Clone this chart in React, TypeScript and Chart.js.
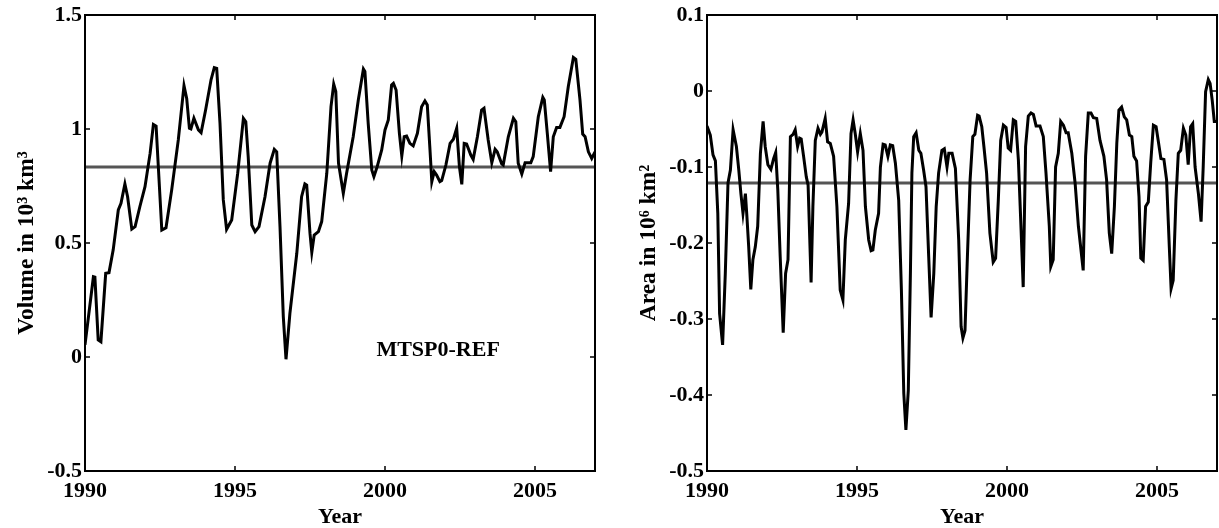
import React, { useEffect, useRef } from "react";
import { Chart, registerables } from "chart.js";

Chart.register(...registerables);

// ---------- data ----------
const xTickYears = [1990, 1995, 2000, 2005];
const volTicks = [-0.5, 0, 0.5, 1, 1.5];
const areaTicks = [-0.5, -0.4, -0.3, -0.2, -0.1, 0, 0.1];

const volMean = 0.833;
const areaMean = -0.121;

const volYears = [
  1990.0, 1990.28, 1990.33, 1990.44, 1990.53, 1990.69, 1990.8, 1990.94, 1991.11, 1991.2,
  1991.33, 1991.42, 1991.56, 1991.67, 1991.83, 1992.0, 1992.17, 1992.28, 1992.37, 1992.56,
  1992.7, 1992.89, 1993.11, 1993.3, 1993.39, 1993.48, 1993.53, 1993.63, 1993.78, 1993.87,
  1994.02, 1994.2, 1994.31, 1994.39, 1994.5, 1994.61, 1994.72, 1994.89, 1995.09, 1995.28,
  1995.36, 1995.44, 1995.56, 1995.67, 1995.8, 1996.0, 1996.17, 1996.31, 1996.39, 1996.5,
  1996.61, 1996.7, 1996.83, 1997.06, 1997.22, 1997.33, 1997.39, 1997.5, 1997.56, 1997.64,
  1997.78, 1997.89, 1998.06, 1998.2, 1998.29, 1998.36, 1998.45, 1998.61, 1998.72, 1998.94,
  1999.11, 1999.28, 1999.33, 1999.44, 1999.56, 1999.63, 1999.74, 1999.89, 2000.0, 2000.11,
  2000.22, 2000.28, 2000.37, 2000.48, 2000.56, 2000.64, 2000.72, 2000.83, 2000.94, 2001.08,
  2001.22, 2001.33, 2001.41, 2001.5, 2001.56, 2001.64, 2001.72, 2001.83, 2001.89, 2002.03,
  2002.17, 2002.28, 2002.39, 2002.48, 2002.56, 2002.64, 2002.72, 2002.86, 2002.94, 2003.08,
  2003.22, 2003.3, 2003.44, 2003.56, 2003.67, 2003.74, 2003.89, 2003.94, 2004.11, 2004.28,
  2004.36, 2004.44, 2004.56, 2004.67, 2004.86, 2004.94, 2005.11, 2005.26, 2005.31, 2005.41,
  2005.52, 2005.61, 2005.72, 2005.83, 2005.97, 2006.11, 2006.28, 2006.36, 2006.5, 2006.59,
  2006.67, 2006.78, 2006.89, 2007.0,
];
const volValues = [
  0.053, 0.352, 0.35, 0.075, 0.067, 0.367, 0.37, 0.47, 0.645, 0.674,
  0.759, 0.703, 0.561, 0.572, 0.66, 0.747, 0.893, 1.02, 1.013, 0.557,
  0.567, 0.733, 0.952, 1.19, 1.134, 1.003, 1.0, 1.047, 0.996, 0.984,
  1.083, 1.215, 1.269, 1.266, 1.025, 0.689, 0.56, 0.601, 0.806, 1.047,
  1.032, 0.879, 0.579, 0.55, 0.572, 0.703, 0.85, 0.911, 0.9, 0.572,
  0.177, -0.01, 0.191, 0.455, 0.703, 0.759, 0.754, 0.542, 0.459, 0.535,
  0.55, 0.594, 0.806, 1.098, 1.197, 1.164, 0.85, 0.718, 0.806, 0.966,
  1.127, 1.263, 1.252, 1.025, 0.82, 0.791, 0.835, 0.908, 0.996, 1.04,
  1.193, 1.2, 1.171, 0.981, 0.882, 0.966, 0.969, 0.937, 0.926, 0.981,
  1.098, 1.123, 1.105, 0.908, 0.769, 0.813, 0.798, 0.769, 0.774, 0.842,
  0.937, 0.955, 1.003, 0.835, 0.757, 0.937, 0.934, 0.886, 0.867, 0.966,
  1.083, 1.091, 0.952, 0.852, 0.911, 0.9, 0.847, 0.842, 0.966, 1.047,
  1.032, 0.85, 0.803, 0.852, 0.852, 0.879, 1.054, 1.139, 1.127, 0.981,
  0.813, 0.966, 1.007, 1.007, 1.054, 1.186, 1.314, 1.306, 1.127, 0.978,
  0.966, 0.9, 0.871, 0.9,
];

const areaYears = [
  1990.0, 1990.11, 1990.2, 1990.28, 1990.36, 1990.42, 1990.52, 1990.61, 1990.7, 1990.78,
  1990.87, 1990.98, 1991.06, 1991.13, 1991.2, 1991.28, 1991.33, 1991.39, 1991.46, 1991.53,
  1991.61, 1991.69, 1991.78, 1991.87, 1991.94, 1992.03, 1992.13, 1992.22, 1992.29, 1992.36,
  1992.44, 1992.54, 1992.62, 1992.7, 1992.78, 1992.87, 1992.94, 1993.02, 1993.09, 1993.14,
  1993.22, 1993.31, 1993.37, 1993.47, 1993.53, 1993.61, 1993.7, 1993.78, 1993.83, 1993.94,
  1994.02, 1994.11, 1994.22, 1994.33, 1994.44, 1994.53, 1994.61, 1994.72, 1994.8, 1994.87,
  1994.94, 1995.02, 1995.11, 1995.2, 1995.28, 1995.39, 1995.47, 1995.53, 1995.61, 1995.72,
  1995.78, 1995.87, 1995.94, 1996.03, 1996.11, 1996.19, 1996.28, 1996.39, 1996.48, 1996.56,
  1996.63, 1996.71, 1996.78, 1996.83, 1996.89, 1996.97, 1997.06, 1997.13, 1997.22, 1997.3,
  1997.39, 1997.47, 1997.56, 1997.64, 1997.72, 1997.83, 1997.91, 1998.0, 1998.06, 1998.17,
  1998.28, 1998.39, 1998.47, 1998.53, 1998.6, 1998.68, 1998.77, 1998.86, 1998.93, 1999.02,
  1999.07, 1999.16, 1999.23, 1999.32, 1999.43, 1999.54, 1999.62, 1999.71, 1999.79, 1999.88,
  1999.97, 2000.04, 2000.12, 2000.21, 2000.29, 2000.38, 2000.47, 2000.54, 2000.62, 2000.71,
  2000.8, 2000.88, 2000.97, 2001.1, 2001.21, 2001.3, 2001.41, 2001.46, 2001.54, 2001.62,
  2001.71, 2001.79, 2001.88, 2001.97, 2002.04, 2002.16, 2002.27, 2002.38, 2002.54, 2002.62,
  2002.71, 2002.8, 2002.88, 2002.99, 2003.1, 2003.23, 2003.32, 2003.41, 2003.49, 2003.58,
  2003.66, 2003.73, 2003.82, 2003.91, 2003.99, 2004.08, 2004.16, 2004.23, 2004.32, 2004.4,
  2004.46, 2004.54, 2004.62, 2004.71, 2004.79, 2004.88, 2004.97, 2005.04, 2005.13, 2005.23,
  2005.32, 2005.41, 2005.47, 2005.54, 2005.63, 2005.71, 2005.79, 2005.88, 2005.96, 2006.04,
  2006.12, 2006.19, 2006.27, 2006.38, 2006.47, 2006.54, 2006.62, 2006.71, 2006.77, 2006.84,
  2006.91, 2007.0,
];
const areaValues = [
  -0.046, -0.058, -0.084, -0.092, -0.161, -0.293, -0.334, -0.24, -0.121, -0.104,
  -0.051, -0.073, -0.104, -0.135, -0.161, -0.135, -0.165, -0.205, -0.261, -0.222,
  -0.205, -0.178, -0.082, -0.04, -0.073, -0.097, -0.103, -0.089, -0.081, -0.13,
  -0.218, -0.318, -0.24, -0.222, -0.06, -0.057, -0.051, -0.073, -0.062, -0.063,
  -0.086, -0.113, -0.124, -0.252, -0.152, -0.065, -0.049, -0.057, -0.054, -0.036,
  -0.067, -0.069, -0.086, -0.152, -0.262, -0.275, -0.196, -0.148, -0.056, -0.038,
  -0.056, -0.08, -0.056, -0.078, -0.152, -0.196, -0.21, -0.209, -0.183, -0.161,
  -0.1, -0.07, -0.071, -0.086, -0.071, -0.072, -0.095, -0.144, -0.262, -0.398,
  -0.446, -0.394, -0.24, -0.108, -0.06, -0.055, -0.078, -0.082, -0.104, -0.126,
  -0.218, -0.298, -0.24, -0.152, -0.108, -0.078, -0.076, -0.1, -0.082, -0.082,
  -0.102, -0.196, -0.31, -0.325, -0.315, -0.218, -0.117, -0.06, -0.057, -0.032,
  -0.033, -0.047, -0.073, -0.108, -0.187, -0.225, -0.22, -0.144, -0.065, -0.045,
  -0.048, -0.075, -0.078, -0.038, -0.04, -0.091, -0.183, -0.258, -0.073, -0.033,
  -0.029, -0.031, -0.046, -0.046, -0.06, -0.108, -0.178, -0.231, -0.222, -0.1,
  -0.082, -0.04, -0.045, -0.055, -0.055, -0.082, -0.121, -0.178, -0.236, -0.086,
  -0.029, -0.029, -0.035, -0.036, -0.065, -0.086, -0.117, -0.187, -0.214, -0.152,
  -0.069, -0.025, -0.021, -0.034, -0.038, -0.058, -0.06, -0.086, -0.092, -0.139,
  -0.22, -0.223, -0.152, -0.146, -0.095, -0.045, -0.047, -0.065, -0.089, -0.09,
  -0.117, -0.205, -0.26, -0.249, -0.144, -0.082, -0.078, -0.049, -0.058, -0.097,
  -0.047, -0.043, -0.1, -0.135, -0.172, -0.1, -0.001, 0.015, 0.01, -0.012,
  -0.04, -0.04,
];

// ---------- chart helpers ----------
const FONT = '"Liberation Serif", "Times New Roman", serif';

const framePlugin = {
  id: "frame",
  afterDraw(chart: any, _args: any, opts: any) {
    const { ctx, chartArea: a, scales } = chart;
    ctx.save();
    ctx.strokeStyle = "#000";
    ctx.lineWidth = 2;
    ctx.strokeRect(a.left, a.top, a.right - a.left, a.bottom - a.top);
    ctx.lineWidth = 1.5;
    const L = 5;
    scales.x.ticks.forEach((t: any) => {
      const px = scales.x.getPixelForValue(t.value);
      ctx.beginPath();
      ctx.moveTo(px, a.bottom);
      ctx.lineTo(px, a.bottom - L);
      ctx.moveTo(px, a.top);
      ctx.lineTo(px, a.top + L);
      ctx.stroke();
    });
    scales.y.ticks.forEach((t: any) => {
      const py = scales.y.getPixelForValue(t.value);
      ctx.beginPath();
      ctx.moveTo(a.left, py);
      ctx.lineTo(a.left + L, py);
      ctx.moveTo(a.right, py);
      ctx.lineTo(a.right - L, py);
      ctx.stroke();
    });
    if (opts && opts.label) {
      ctx.fillStyle = "#000";
      ctx.font = `bold 22px ${FONT}`;
      ctx.textAlign = "center";
      ctx.textBaseline = "middle";
      ctx.fillText(
        opts.label,
        scales.x.getPixelForValue(opts.labelX),
        scales.y.getPixelForValue(opts.labelY)
      );
    }
    ctx.restore();
  },
};

function makeConfig(
  years: number[],
  values: number[],
  mean: number,
  yMin: number,
  yMax: number,
  yTicks: number[],
  yTitle: string,
  padRight: number,
  label: any
): any {
  const fontSpec = { family: FONT, size: 22, weight: "bold" as const, lineHeight: 1 };
  const titleFont = { family: FONT, size: 23.5, weight: "bold" as const, lineHeight: 1 };
  return {
    type: "line",
    data: {
      datasets: [
        {
          data: years.map((x, i) => ({ x, y: values[i] })),
          borderColor: "#000",
          borderWidth: 3,
          pointRadius: 0,
          tension: 0,
        },
        {
          data: [
            { x: 1990, y: mean },
            { x: 2007, y: mean },
          ],
          borderColor: "#555555",
          borderWidth: 3,
          pointRadius: 0,
        },
      ],
    },
    options: {
      responsive: false,
      animation: false,
      devicePixelRatio: 1,
      layout: { padding: { top: 15, right: padRight, left: 0, bottom: 0 } },
      plugins: {
        legend: { display: false },
        tooltip: { enabled: false },
        frame: label,
      },
      scales: {
        x: {
          type: "linear",
          min: 1990,
          max: 2007,
          grid: { display: false, drawTicks: false },
          border: { display: false },
          afterBuildTicks: (s: any) => {
            s.ticks = xTickYears.map((v) => ({ value: v }));
          },
          afterFit: (s: any) => {
            s.height = 57;
          },
          ticks: {
            color: "#000",
            font: fontSpec,
            padding: 9,
            maxRotation: 0,
            autoSkip: false,
            callback: (v: any) => String(v),
          },
          title: {
            display: true,
            text: "Year",
            color: "#000",
            font: fontSpec,
            padding: { top: 0, bottom: 0 },
          },
        },
        y: {
          type: "linear",
          min: yMin,
          max: yMax,
          grid: { display: false, drawTicks: false },
          border: { display: false },
          afterBuildTicks: (s: any) => {
            s.ticks = yTicks.map((v) => ({ value: v }));
          },
          afterFit: (s: any) => {
            s.width = 85;
          },
          ticks: {
            color: "#000",
            font: fontSpec,
            padding: 3,
            autoSkip: false,
            callback: (v: any) => String(Math.round(v * 10) / 10),
          },
          title: {
            display: true,
            text: yTitle,
            color: "#000",
            font: titleFont,
            padding: { top: 15, bottom: 0 },
          },
        },
      },
    },
    plugins: [framePlugin],
  };
}

function Panel(props: { left: number; width: number; config: () => any }) {
  const ref = useRef<HTMLCanvasElement | null>(null);
  useEffect(() => {
    if (!ref.current) return;
    const chart = new Chart(ref.current, props.config());
    return () => chart.destroy();
  }, []);
  return (
    <canvas
      ref={ref}
      width={props.width}
      height={528}
      style={{ position: "absolute", left: props.left, top: 0, width: props.width, height: 528 }}
    />
  );
}

export default function App() {
  return (
    <div
      style={{
        position: "absolute",
        left: 0,
        top: 0,
        width: 1219,
        height: 528,
        background: "#fff",
        overflow: "hidden",
      }}
    >
      <Panel
        left={0}
        width={600}
        config={() =>
          makeConfig(volYears, volValues, volMean, -0.5, 1.5, volTicks, "Volume in 10³ km³", 5, {
            label: "MTSP0-REF",
            labelX: 2001.77,
            labelY: 0.03,
          })
        }
      />
      <Panel
        left={622}
        width={597}
        config={() =>
          makeConfig(areaYears, areaValues, areaMean, -0.5, 0.1, areaTicks, "Area in 10⁶ km²", 2, {})
        }
      />
    </div>
  );
}
